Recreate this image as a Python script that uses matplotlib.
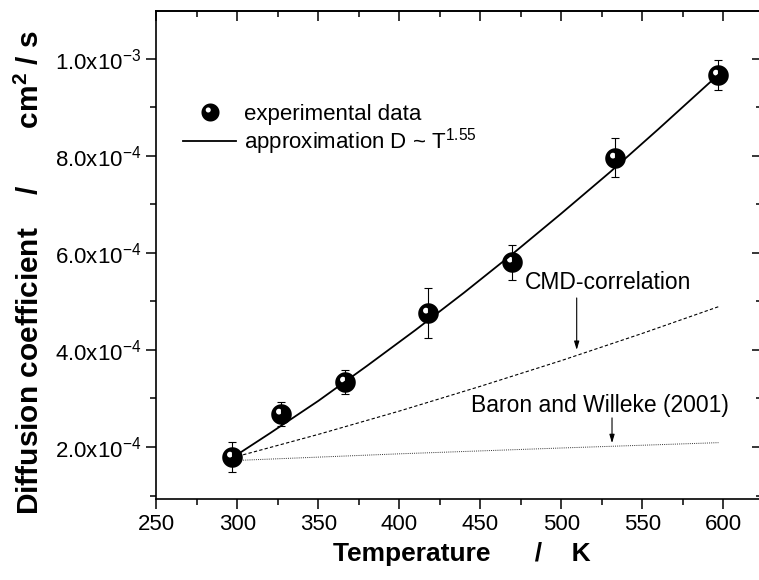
import numpy as np
import matplotlib
matplotlib.use("Agg")
import matplotlib.pyplot as plt
from matplotlib.path import Path
from matplotlib.lines import Line2D
from matplotlib.ticker import MultipleLocator, FuncFormatter

plt.rcParams["font.family"] = ["Liberation Sans", "DejaVu Sans"]
plt.rcParams["mathtext.fontset"] = "custom"
plt.rcParams["mathtext.rm"] = "Liberation Sans"
plt.rcParams["mathtext.default"] = "regular"

# experimental points (K, cm^2/s)
temp_exp = [296.9, 327.0, 366.5, 417.7, 469.6, 533.2, 596.7]
d_exp = [1.79e-4, 2.68e-4, 3.34e-4, 4.76e-4, 5.81e-4, 7.96e-4, 9.67e-4]
d_err = [0.31e-4, 0.24e-4, 0.24e-4, 0.52e-4, 0.36e-4, 0.40e-4, 0.31e-4]

# approximation D ~ T^1.55
temp_fit = [297, 320, 350, 380, 410, 440, 470, 500, 530, 560, 597]
d_fit = [1.78e-4, 2.28e-4, 2.95e-4, 3.67e-4, 4.41e-4, 5.18e-4,
         5.98e-4, 6.81e-4, 7.66e-4, 8.55e-4, 9.67e-4]

# CMD-correlation
temp_cmd = [297, 350, 400, 450, 500, 550, 597]
d_cmd = [1.78e-4, 2.26e-4, 2.74e-4, 3.25e-4, 3.78e-4, 4.34e-4, 4.89e-4]

# Baron and Willeke (2001)
temp_bw = [297, 400, 500, 597]
d_bw = [1.72e-4, 1.86e-4, 1.98e-4, 2.09e-4]


def sphere_marker():
    # black disc with a small off-centre hole -> shiny ball look
    t = np.linspace(0, 2 * np.pi, 65)
    outer = np.column_stack([np.cos(t), np.sin(t)])
    inner = np.column_stack([-0.25 + 0.28 * np.cos(-t), 0.28 + 0.28 * np.sin(-t)])
    verts = np.vstack([outer, inner])
    codes = ([Path.MOVETO] + [Path.LINETO] * 63 + [Path.CLOSEPOLY]) * 2
    return Path(verts, codes)


def sci_fmt(v, pos):
    if v <= 0:
        return ""
    e = int(np.floor(np.log10(v) + 1e-9))
    m = v / 10 ** e
    return f"{m:.1f}x10$^{{{e}}}$"


ball = sphere_marker()

fig = plt.figure(figsize=(7.59, 5.80), dpi=100)
ax = fig.add_axes([0.2059, 0.1397, 0.7981, 0.8413])

ax.plot(temp_fit, d_fit, color="black", lw=1.3, zorder=2)
ax.plot(temp_cmd, d_cmd, color="black", lw=0.8, dashes=(3, 2), zorder=2)
ax.plot(temp_bw, d_bw, color="#333333", lw=0.7, dashes=(1, 1.2), zorder=2)
ax.errorbar(temp_exp, d_exp, yerr=d_err, fmt="none", ecolor="black",
            elinewidth=0.8, capsize=3, capthick=0.8, zorder=2.5)
ax.plot(temp_exp, d_exp, ls="none", marker=ball, ms=14.8, color="black",
        mew=0, zorder=3)

ax.set_xlim(250, 623.9)
ax.set_ylim(0.93e-4, 1.098e-3)

ax.xaxis.set_major_locator(MultipleLocator(50))
ax.xaxis.set_minor_locator(MultipleLocator(25))
ax.yaxis.set_major_locator(MultipleLocator(2e-4))
ax.yaxis.set_minor_locator(MultipleLocator(1e-4))
ax.yaxis.set_major_formatter(FuncFormatter(sci_fmt))

ax.tick_params(which="both", direction="out", width=1.1, labelsize=16,
               top=False, right=False)
ax.tick_params(which="major", length=7, pad=4)
ax.tick_params(which="minor", length=4)
for s in ax.spines.values():
    s.set_linewidth(1.2)

# mirrored ticks pointing inward on top and right
top = ax.secondary_xaxis("top")
top.xaxis.set_major_locator(MultipleLocator(50))
top.xaxis.set_minor_locator(MultipleLocator(25))
top.tick_params(which="both", direction="in", width=1.1, labeltop=False)
top.tick_params(which="major", length=7)
top.tick_params(which="minor", length=4)
top.spines["top"].set_linewidth(1.2)
right = ax.secondary_yaxis("right")
right.yaxis.set_major_locator(MultipleLocator(2e-4))
right.yaxis.set_minor_locator(MultipleLocator(1e-4))
right.tick_params(which="both", direction="in", width=1.1, labelright=False)
right.tick_params(which="major", length=7)
right.tick_params(which="minor", length=4)

ax.set_xlabel("Temperature      /    K", fontsize=19, fontweight="bold")
ax.xaxis.set_label_coords(0.504, -0.088)
ax.set_ylabel("Diffusion coefficient    /       cm$^2$ / s", fontsize=21.5,
              fontweight="bold")
ax.yaxis.set_label_coords(-0.183, 0.465)

handles = [
    Line2D([], [], ls="none", marker=ball, ms=13, color="black", mew=0),
    Line2D([], [], color="black", lw=1.3),
]
ax.legend(handles, ["experimental data", "approximation D ~ T$^{1.55}$"],
          loc="upper left", bbox_to_anchor=(0.044, 0.810), frameon=False,
          fontsize=16, handlelength=2.4, handletextpad=0.35,
          labelspacing=0.06, borderaxespad=0, borderpad=0)

ax.annotate("", xy=(509.5, 4.0e-4), xytext=(509.5, 5.07e-4),
            arrowprops=dict(arrowstyle="-|>,head_length=0.5,head_width=0.15",
                            color="black", lw=0.8, mutation_scale=10,
                            shrinkA=0, shrinkB=0))
ax.text(477.6, 5.38e-4, "CMD-correlation", fontsize=16.5, ha="left", va="center")
ax.annotate("", xy=(531.3, 2.08e-4), xytext=(531.3, 2.60e-4),
            arrowprops=dict(arrowstyle="-|>,head_length=0.5,head_width=0.15",
                            color="black", lw=0.8, mutation_scale=10,
                            shrinkA=0, shrinkB=0))
ax.text(444.0, 2.85e-4, "Baron and Willeke (2001)", fontsize=16.5,
        ha="left", va="center")

fig.savefig("out.png", dpi=100)
